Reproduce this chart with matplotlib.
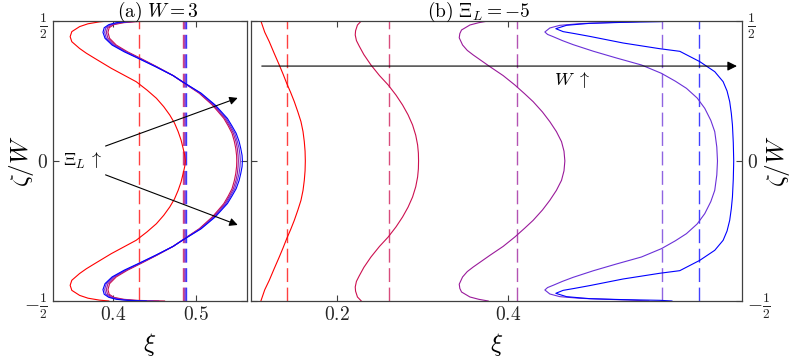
import matplotlib
matplotlib.use("Agg")
import matplotlib.pyplot as plt

plt.rcParams["mathtext.fontset"] = "cm"
plt.rcParams["font.family"] = ["DejaVu Serif"]

# colours of the five profiles, red -> blue
COLORS = ["#ff0000", "#cc1050", "#9a1a9a", "#6a30d8", "#0000ff"]

# ---- panel (a): W = 3, upper half of each profile (mirrored about zeta = 0)
a_zeta_red = [0.5, 0.497, 0.49, 0.48, 0.462, 0.444, 0.426, 0.402, 0.385, 0.367,
              0.331, 0.307, 0.283, 0.253, 0.224, 0.194, 0.164, 0.135, 0.105,
              0.075, 0.045, 0.02, 0.0]
a_xi_red = [0.395, 0.384, 0.370, 0.360, 0.3506, 0.3486, 0.3506, 0.3599, 0.368, 0.3779,
            0.398, 0.413, 0.428, 0.441, 0.4522, 0.461, 0.4683, 0.474, 0.4783,
            0.4818, 0.4843, 0.4862, 0.487]

a_zeta_bundle = [0.5, 0.498, 0.494, 0.487, 0.476, 0.4595, 0.438, 0.414, 0.39, 0.367,
                 0.337, 0.305, 0.277, 0.242, 0.2, 0.175, 0.152, 0.125, 0.099, 0.07,
                 0.045, 0.02, 0.0]
a_xi_crimson = [0.462, 0.43, 0.413, 0.401, 0.3955, 0.394, 0.396, 0.404, 0.4175, 0.433,
                0.4525, 0.4723, 0.486, 0.5036, 0.5193, 0.5266, 0.5332, 0.5385, 0.543, 0.5458,
                0.5475, 0.5485, 0.5487]
a_xi_purple = [0.455, 0.425, 0.41, 0.399, 0.3935, 0.392, 0.394, 0.402, 0.416, 0.432,
               0.452, 0.4723, 0.4863, 0.5044, 0.5205, 0.528, 0.5346, 0.540, 0.5446, 0.5477,
               0.5494, 0.5503, 0.5506]
a_xi_violet = [0.448, 0.421, 0.407, 0.397, 0.3915, 0.390, 0.392, 0.4005, 0.415, 0.431,
               0.4515, 0.4723, 0.4866, 0.5052, 0.5217, 0.5293, 0.536, 0.5414, 0.5463, 0.5494,
               0.5515, 0.5526, 0.553]
a_xi_blue = [0.44, 0.418, 0.404, 0.395, 0.3895, 0.388, 0.3905, 0.399, 0.4135, 0.43,
             0.451, 0.4722, 0.4868, 0.506, 0.5228, 0.5305, 0.5375, 0.543, 0.548, 0.5515,
             0.5535, 0.5551, 0.5555]

a_dashed = [0.4317, 0.4845, 0.4855, 0.4865, 0.4875]

# ---- panel (b): Xi_L = -5, upper half of each profile
b_zeta_red = [0.5, 0.46, 0.4262, 0.385, 0.3429, 0.31, 0.2774, 0.245, 0.2119, 0.175,
              0.1405, 0.105, 0.069, 0.035, 0.0]
b_xi_red = [0.111, 0.1155, 0.1208, 0.1265, 0.1325, 0.137, 0.1412, 0.1458, 0.1501, 0.1543,
            0.1579, 0.1603, 0.1618, 0.1627, 0.163]

b_zeta_crimson = [0.5, 0.4857, 0.465, 0.45, 0.43, 0.4107, 0.38, 0.3429, 0.305, 0.2714,
                  0.235, 0.2, 0.165, 0.1286, 0.092, 0.0571, 0.028, 0.0]
b_xi_crimson = [0.2285, 0.224, 0.2218, 0.2214, 0.2228, 0.226, 0.2315, 0.2398, 0.2498, 0.26,
                0.2692, 0.2768, 0.2832, 0.2885, 0.2922, 0.2944, 0.2953, 0.2955]

b_zeta_purple = [0.5, 0.494, 0.4857, 0.4679, 0.455, 0.44, 0.4143, 0.395, 0.3786, 0.3369,
                 0.305, 0.2714, 0.24, 0.2119, 0.175, 0.1405, 0.105, 0.069, 0.035, 0.0]
b_xi_purple = [0.377, 0.366, 0.3556, 0.3458, 0.3438, 0.3431, 0.347, 0.3525, 0.3595, 0.379,
               0.3945, 0.4082, 0.4197, 0.4296, 0.4405, 0.4491, 0.4568, 0.4628, 0.4657, 0.4667]

b_zeta_violet = [0.5, 0.4964, 0.494, 0.4905, 0.4845, 0.475, 0.4607, 0.452, 0.444, 0.43,
                 0.4155, 0.392, 0.3679, 0.3429, 0.3131, 0.285, 0.2595, 0.225, 0.1881,
                 0.145, 0.1048, 0.05, 0.0]
b_xi_violet = [0.565, 0.54, 0.5154, 0.4842, 0.4608, 0.4491, 0.4433, 0.4465, 0.453, 0.4638,
               0.4764, 0.5, 0.527, 0.5563, 0.5797, 0.596, 0.609, 0.6215, 0.6304,
               0.6375, 0.6421, 0.6445, 0.6453]

b_zeta_blue = [0.5, 0.4976, 0.4952, 0.4917, 0.4846, 0.4726, 0.462, 0.455, 0.445, 0.4214,
               0.401, 0.3917, 0.3548, 0.319, 0.2833, 0.25, 0.2119, 0.17, 0.1286, 0.065, 0.0]
b_xi_blue = [0.592, 0.5778, 0.5349, 0.4959, 0.4687, 0.4561, 0.4647, 0.478, 0.4959, 0.5349,
             0.5778, 0.6012, 0.6246, 0.6421, 0.6519, 0.6565, 0.6596, 0.6615, 0.6628, 0.6638, 0.6643]

b_dashed = [0.1415, 0.2605, 0.4105, 0.58, 0.6242]

YTICKS = [-0.5, 0.0, 0.5]
YTICK_LABELS = [r"$-\frac{1}{2}$", r"$0$", r"$\frac{1}{2}$"]


def full_profile(zeta, xi):
    # upper half, lower half is its mirror image
    z = list(zeta) + [-v for v in reversed(zeta[:-1])]
    x = list(xi) + list(reversed(xi[:-1]))
    return x, z


def style_axes(ax):
    for spine in ax.spines.values():
        spine.set_color("#404040")
        spine.set_linewidth(0.9)
    ax.tick_params(direction="in", length=4, width=0.8, colors="#404040",
                   labelcolor="#262626", labelsize=14, top=True, right=True, left=True)
    ax.set_ylim(-0.5, 0.5)
    ax.set_yticks(YTICKS)
    ax.set_yticklabels(YTICK_LABELS)


def label_axes(ax, ylabel_x):
    ax.text(0.5, -0.157, r"$\xi$", transform=ax.transAxes, fontsize=18,
            ha="center", va="center")
    ax.text(ylabel_x, 0.5, r"$\zeta/W$", transform=ax.transAxes, fontsize=18,
            rotation=90, ha="center", va="center")


fig = plt.figure(figsize=(7.97, 3.57), dpi=100)
ax_a = fig.add_axes([0.0665, 0.1569, 0.2434, 0.7843])
ax_b = fig.add_axes([0.3149, 0.1569, 0.6161, 0.7843])

# panel (a)
for xd, c in zip(a_dashed, COLORS):
    ax_a.axvline(xd, color=c, lw=1.0, ls=(0, (10, 4)), alpha=0.75)
ax_a.plot(*full_profile(a_zeta_red, a_xi_red), color=COLORS[0], lw=0.8)
for xi, c in zip([a_xi_crimson, a_xi_purple, a_xi_violet, a_xi_blue], COLORS[1:]):
    ax_a.plot(*full_profile(a_zeta_bundle, xi), color=c, lw=0.8)

ax_a.annotate("", xy=(0.553, 0.2286), xytext=(0.388, 0.05),
              arrowprops=dict(arrowstyle="-|>", color="k", lw=0.8, mutation_scale=12))
ax_a.annotate("", xy=(0.553, -0.232), xytext=(0.388, -0.046),
              arrowprops=dict(arrowstyle="-|>", color="k", lw=0.8, mutation_scale=12))
ax_a.text(0.3398, 0.0, r"$\Xi_L\,\uparrow$", fontsize=13, ha="left", va="center")

ax_a.set_xlim(0.328, 0.561)
ax_a.set_xticks([0.4, 0.5])
ax_a.set_xticklabels([r"$0.4$", r"$0.5$"])
style_axes(ax_a)
label_axes(ax_a, -0.16)
ax_a.text(0.541, 1.016, r"$\mathrm{(a)}\ W=3$", transform=ax_a.transAxes,
          fontsize=14, ha="center", va="baseline")

# panel (b)
b_profiles = [(b_zeta_red, b_xi_red), (b_zeta_crimson, b_xi_crimson),
              (b_zeta_purple, b_xi_purple), (b_zeta_violet, b_xi_violet),
              (b_zeta_blue, b_xi_blue)]
for xd, c in zip(b_dashed, COLORS):
    ax_b.axvline(xd, color=c, lw=1.0, ls=(0, (10, 4)), alpha=0.75)
for (zeta, xi), c in zip(b_profiles, COLORS):
    ax_b.plot(*full_profile(zeta, xi), color=c, lw=0.8)

ax_b.annotate("", xy=(0.6713, 0.339), xytext=(0.1088, 0.339),
              arrowprops=dict(arrowstyle="-|>", color="k", lw=0.8, mutation_scale=14))
ax_b.text(0.475, 0.289, r"$W\ \uparrow$", fontsize=13, ha="center", va="center")

ax_b.set_xlim(0.0994, 0.674)
ax_b.set_xticks([0.2, 0.4])
ax_b.set_xticklabels([r"$0.2$", r"$0.4$"])
style_axes(ax_b)
ax_b.tick_params(labelleft=False, labelright=True)
label_axes(ax_b, 1.073)
ax_b.text(0.464, 1.016, r"$\mathrm{(b)}\ \Xi_L=-5$", transform=ax_b.transAxes,
          fontsize=14, ha="center", va="baseline")

fig.savefig("out.png", dpi=100)
